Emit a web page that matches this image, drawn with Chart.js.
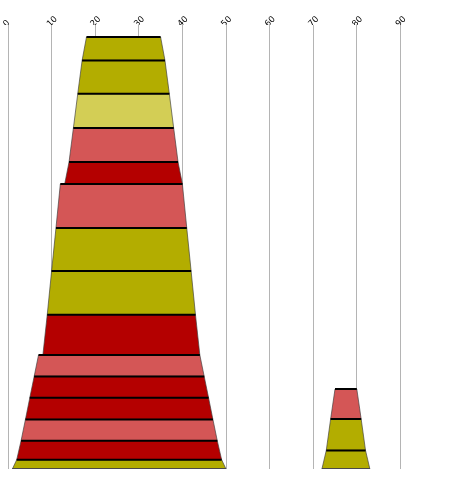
<!DOCTYPE html>
<html>
<head>
<meta charset="utf-8">
<script src="https://cdn.jsdelivr.net/npm/chart.js@4/dist/chart.umd.min.js"></script>
<style>
  html, body { margin: 0; padding: 0; background: #fff; }
  #wrap { width: 452px; height: 477px; }
</style>
</head>
<body>
<div id="wrap"><canvas id="myChart"></canvas></div>
<script>
// x axis ticks
const xTicks = [0, 10, 20, 30, 40, 50, 60, 70, 80, 90];

// left shape, segments listed bottom -> top
const leftHeights   = [9.3, 19, 21.3, 21.7, 21.3, 21.4, 40.3, 43.7, 43, 44, 22, 34, 34.3, 33.3, 23.4];
const leftLowBottom  = [1, 2, 3, 4, 5, 6, 8, 9, 10, 11, 13, 14, 15, 16, 17];
const leftLowTop     = [2, 3, 4, 5, 6, 7, 9, 10, 11, 12, 14, 15, 16, 17, 18];
const leftHighBottom = [50, 49, 48, 47, 46, 45, 44, 43, 42, 41, 40, 39, 38, 37, 36];
const leftHighTop    = [49, 48, 47, 46, 45, 44, 43, 42, 41, 40, 39, 38, 37, 36, 35];
const leftColors = ['olive', 'red', 'salmon', 'red', 'red', 'salmon', 'red', 'olive',
                    'olive', 'salmon', 'red', 'salmon', 'light', 'olive', 'olive'];

// right shape, bottom -> top
const rightHeights    = [18.6, 31.4, 30];
const rightLowBottom  = [72, 73, 74];
const rightLowTop     = [73, 74, 75];
const rightHighBottom = [83, 82, 81];
const rightHighTop    = [82, 81, 80];
const rightColors = ['olive', 'olive', 'salmon'];

const palette = {
    olive: '#b3ad00',
    light: '#d3ce55',
    salmon: '#d45656',
    red: '#b40000'
};

const datasets = [];

function addShape(heights, lowB, lowT, highB, highT, colors) {
    let base = 0;
    heights.forEach((h, i) => {
        const top = base + h;
        // filled trapezoid with thin outline
        datasets.push({
            data: [
                {x: lowB[i], y: base},
                {x: lowT[i], y: top},
                {x: highT[i], y: top},
                {x: highB[i], y: base},
                {x: lowB[i], y: base}
            ],
            showLine: true,
            fill: 'shape',
            backgroundColor: palette[colors[i]],
            borderColor: 'rgba(60,60,60,0.65)',
            borderWidth: 1,
            pointRadius: 0,
            order: 2
        });
        // dark top edge
        datasets.push({
            data: [{x: lowT[i], y: top}, {x: highT[i], y: top}],
            showLine: true,
            fill: false,
            borderColor: '#000',
            borderWidth: 2,
            pointRadius: 0,
            order: 1
        });
        if (i === 0) {
            datasets.push({
                data: [{x: lowB[i], y: base}, {x: highB[i], y: base}],
                showLine: true,
                fill: false,
                borderColor: '#4a4a4a',
                borderWidth: 2,
                pointRadius: 0,
                order: 1
            });
        }
        base = top;
    });
}

addShape(leftHeights, leftLowBottom, leftLowTop, leftHighBottom, leftHighTop, leftColors);
addShape(rightHeights, rightLowBottom, rightLowTop, rightHighBottom, rightHighTop, rightColors);

var ctx = document.getElementById('myChart');
var myChart = new Chart(ctx, {
    type: 'scatter',
    data: { datasets: datasets },
    options: {
        responsive: true,
        maintainAspectRatio: false,
        animation: false,
        layout: { padding: { left: 8, right: 8, top: 0, bottom: 8 } },
        plugins: {
            legend: { display: false },
            tooltip: { enabled: false }
        },
        scales: {
            x: {
                type: 'linear',
                position: 'top',
                min: 0,
                max: 100,
                afterBuildTicks: axis => {
                    axis.ticks = xTicks.concat([100]).map(v => ({value: v}));
                },
                afterFit: axis => { axis.height = 25; },
                ticks: {
                    callback: v => (xTicks.includes(v) ? v : ''),
                    minRotation: 45,
                    maxRotation: 45,
                    padding: -4,
                    labelOffset: 4,
                    color: '#000',
                    font: { family: 'DejaVu Sans', size: 8.5 }
                },
                grid: {
                    color: c => (c.tick && c.tick.value === 100) ? 'rgba(0,0,0,0)' : '#b4b4b4',
                    drawTicks: false
                },
                border: { display: false }
            },
            y: {
                display: false,
                min: 0,
                max: 444
            }
        }
    }
});
</script>
</body>
</html>
